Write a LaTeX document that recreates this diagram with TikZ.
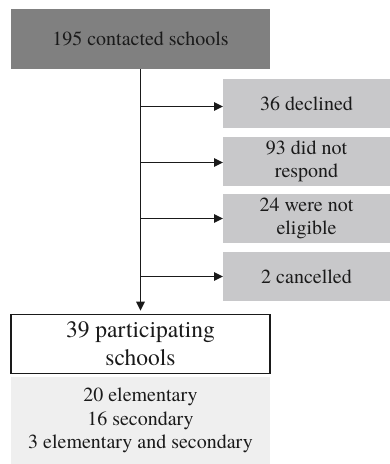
\documentclass[tikz,border=0pt]{standalone}
\usepackage{fontspec}
\IfFontExistsTF{texgyretermes-regular.otf}
  {\setmainfont{texgyretermes-regular.otf}}
  {\setmainfont{Liberation Serif}}
\usetikzlibrary{arrows.meta}
\definecolor{darkbox}{HTML}{808080}
\definecolor{midbox}{HTML}{C8C8CA}
\definecolor{lightbox}{HTML}{EFEFEF}
\definecolor{ink}{HTML}{1A1A1A}
\tikzset{
  x=1pt, y=1pt,
  every node/.style={text=ink, inner sep=0pt, outer sep=0pt, align=center},
  headbox/.style={fill=darkbox, minimum width=259pt, minimum height=60pt,
    font=\fontsize{20}{23.5}\selectfont},
  outbox/.style={fill=midbox, minimum width=167pt, minimum height=49pt,
    font=\fontsize{20}{23}\selectfont},
  resultbox/.style={draw=ink, line width=1.3pt, fill=white, minimum width=259pt,
    minimum height=58.5pt, font=\fontsize{23.5}{28}\selectfont},
  detailbox/.style={fill=lightbox, minimum width=259pt, minimum height=87pt,
    font=\fontsize{20}{23.5}\selectfont},
  arr/.style={draw=ink, line width=1.4pt, -{Triangle[length=9pt,width=8.5pt]}}
}
\begin{document}
\begin{tikzpicture}
\useasboundingbox (0,0) rectangle (390,464);
% flow boxes
\node[headbox] (top) at (140.5,425) {195 contacted schools};
\node[outbox] (b1) at (306.5,360.5) {36 declined};
\node[outbox] (b2) at (306.5,302.5) {93 did not\\respond};
\node[outbox] (b3) at (306.5,245.5) {24 were not\\eligible};
\node[outbox] (b4) at (306.5,187.5) {2 cancelled};
\node[resultbox] (part) at (140.5,120) {39 participating\\schools};
\node[detailbox] (detail) at (140.5,43.5) {20 elementary\\16 secondary\\3 elementary and secondary};
% main trunk
\coordinate (end) at ([yshift=4pt]part.north);
\draw[arr] (top.south) -- (end);
% branches to the excluded groups
\draw[arr] ([yshift=-3pt]b1.west -| top.south) -- ([yshift=-3pt]b1.west);
\draw[arr] ([yshift=-1pt]b2.west -| top.south) -- ([yshift=-1pt]b2.west);
\draw[arr] (b3.west -| top.south) -- (b3.west);
\draw[arr] (b4.west -| top.south) -- (b4.west);
\end{tikzpicture}
\end{document}
